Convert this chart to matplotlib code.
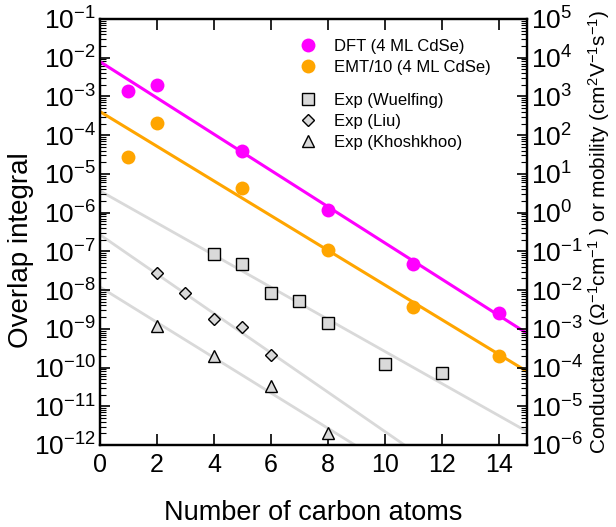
import matplotlib
matplotlib.use("Agg")
import matplotlib.pyplot as plt
import numpy as np
from matplotlib.ticker import LogLocator, NullFormatter, LogFormatterSciNotation
from matplotlib.lines import Line2D

plt.rcParams['font.family'] = ['Liberation Sans', 'DejaVu Sans']
plt.rcParams['mathtext.fontset'] = 'custom'
plt.rcParams['mathtext.rm'] = 'Liberation Sans'
plt.rcParams['mathtext.it'] = 'Liberation Sans:italic'

# DFT and EMT/10 overlap integrals (4 ML CdSe)
dft_n = [1, 2, 5, 8, 11, 14]
dft_val = [1.4e-3, 2.0e-3, 4.0e-5, 1.15e-6, 4.7e-8, 2.6e-9]
emt_n = [1, 2, 5, 8, 11, 14]
emt_val = [2.7e-5, 2.1e-4, 4.4e-6, 1.1e-7, 3.6e-9, 2.0e-10]

# experimental conductance / mobility (right axis, scaled to left by 1e-6)
wuel_n = [4, 5, 6, 7, 8, 10, 12]
wuel_val = [8.5e-2, 4.8e-2, 8.5e-3, 5.2e-3, 1.45e-3, 1.26e-4, 7.2e-5]
liu_n = [2, 3, 4, 5, 6]
liu_val = [2.7e-2, 8.3e-3, 1.8e-3, 1.14e-3, 2.1e-4]
khosh_n = [2, 4, 6, 8]
khosh_val = [1.2e-3, 2.0e-4, 3.3e-5, 2.0e-6]

scale = 1e-6  # right axis -> left axis

fig = plt.figure(figsize=(6.16, 5.27), dpi=100)
ax = fig.add_axes([0.1623, 0.1556, 0.6937, 0.8084])
ax2 = ax.twinx()

xfit = np.linspace(0, 15, 200)

def fitline(n, v):
    p = np.polyfit(n, np.log10(v), 1)
    return 10 ** np.polyval(p, xfit)

gray = '#d9d9d9'
for n, v in [(wuel_n, wuel_val), (liu_n, liu_val), (khosh_n, khosh_val)]:
    ax.plot(xfit, fitline(n, np.array(v) * scale), color=gray, lw=2.0, zorder=1)

ax.plot(xfit, fitline(dft_n, dft_val), color='#ff00ff', lw=2.2, zorder=2)
ax.plot(xfit, fitline(emt_n, emt_val), color='#ffa500', lw=2.2, zorder=2)

ax.plot(dft_n, dft_val, 'o', color='#ff00ff', ms=10, mec='none', zorder=3)
ax.plot(emt_n, emt_val, 'o', color='#ffa500', ms=10, mec='none', zorder=3)

mk = dict(linestyle='none', mfc='#d9d9d9', mec='black', mew=1.0, zorder=3)
ax.plot(wuel_n, np.array(wuel_val) * scale, 's', ms=8, **mk)
ax.plot(liu_n, np.array(liu_val) * scale, 'D', ms=6, **mk)
ax.plot(khosh_n, np.array(khosh_val) * scale, '^', ms=9, **mk)

for a, lo, hi in [(ax, 1e-12, 1e-1), (ax2, 1e-6, 1e5)]:
    a.set_yscale('log')
    a.set_ylim(lo, hi)
    a.yaxis.set_major_locator(LogLocator(base=10, numticks=30))
    a.yaxis.set_minor_locator(LogLocator(base=10, subs=np.arange(2, 10), numticks=30))
    a.yaxis.set_minor_formatter(NullFormatter())
    a.yaxis.set_major_formatter(LogFormatterSciNotation())
    a.tick_params(axis='y', which='major', direction='in', length=7, width=1.2,
                  labelsize=19, pad=3)
    a.tick_params(axis='y', which='minor', direction='in', length=4, width=0.8)
    for s in a.spines.values():
        s.set_linewidth(1.6)

ax.set_xlim(0, 15)
ax.set_xticks(np.arange(0, 15, 2))
ax.tick_params(axis='x', direction='in', length=8, width=1.2, labelsize=18,
               pad=6, top=True)
ax.tick_params(axis='y', right=False, which='both')

ax.set_xlabel('Number of carbon atoms', fontsize=19.5, labelpad=16)
ax.set_ylabel('Overlap integral', fontsize=20)
ax.yaxis.set_label_coords(-0.154, 0.458)
ax2.set_ylabel(r'Conductance ($\Omega^{-1}$cm$^{-1}$ ) or mobility (cm$^2$V$^{-1}$s$^{-1}$)',
               fontsize=15, labelpad=2)

h1 = [Line2D([], [], marker='o', ls='none', color='#ff00ff', ms=10, mec='none'),
      Line2D([], [], marker='o', ls='none', color='#ffa500', ms=10, mec='none')]
leg1 = ax.legend(h1, ['DFT (4 ML CdSe)', 'EMT/10 (4 ML CdSe)'], loc='upper left',
                 bbox_to_anchor=(0.422, 0.988), frameon=False, fontsize=12,
                 handletextpad=0.8, labelspacing=0.35, handlelength=1.5)
ax.add_artist(leg1)
h2 = [Line2D([], [], marker='s', ms=8, **mk),
      Line2D([], [], marker='D', ms=6, **mk),
      Line2D([], [], marker='^', ms=9, **mk)]
ax.legend(h2, ['Exp (Wuelfing)', 'Exp (Liu)', 'Exp (Khoshkhoo)'], loc='upper left',
          bbox_to_anchor=(0.422, 0.8615), frameon=False, fontsize=12,
          handletextpad=0.8, labelspacing=0.35, handlelength=1.5)

fig.savefig('out.png', dpi=100)
